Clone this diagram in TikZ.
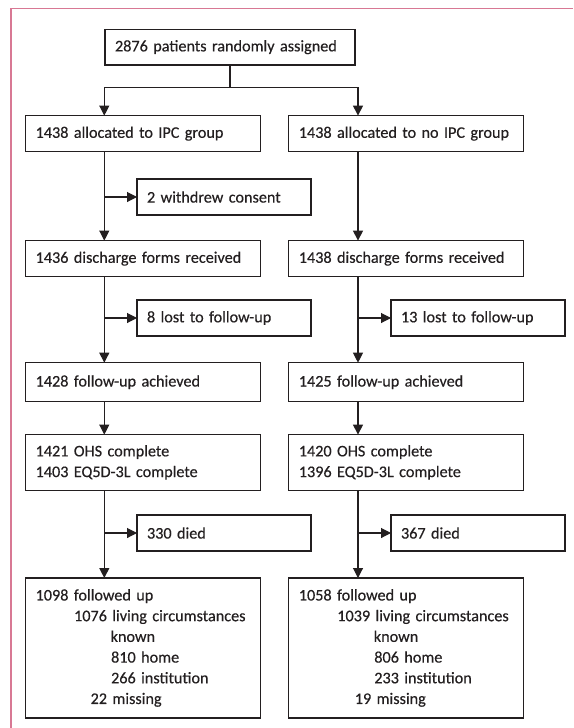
\documentclass[tikz,border=0pt]{standalone}
\usepackage{fontspec}
\setmainfont{Carlito}[FakeBold=0.35]
\usetikzlibrary{arrows.meta}
\definecolor{frame}{RGB}{216,120,148}
\definecolor{ink}{RGB}{35,31,32}
\begin{document}
\begin{tikzpicture}[x=1pt,y=-1pt,
  font=\fontsize{16.2}{20.7}\selectfont,
  box/.style 2 args={draw=ink, line width=1.1pt, text=ink, anchor=north west,
    inner xsep=10pt, inner ysep=0pt, outer sep=0pt, align=left,
    text width={#1-20pt}, minimum height=#2},
  link/.style={draw=ink, line width=1.1pt},
  arr/.style={link, -{Triangle[length=10pt,width=10pt]}}
]
\useasboundingbox (0,0) rectangle (573,728);
\draw[frame, line width=1.5pt, line join=miter] (11,728) -- (11,8.5) -- (573,8.5);

% column guides
\coordinate (cL) at (104.3,0);
\coordinate (cR) at (358,0);
\coordinate (split) at (230,87.7);

\node[box={250pt}{35.7pt}] (top) at (105,29.3) {2876 patients randomly assigned};

\node[box={234.5pt}{36pt}] (a1) at (25.6,115.6) {1438 allocated to IPC group};
\node[box={234.5pt}{36pt}] (b1) at (288.8,115.6) {1438 allocated to no IPC group};

\node[box={174pt}{36pt}] (aw) at (137,179) {2 withdrew consent};

\node[box={234.5pt}{36pt}] (a2) at (25.6,240.6) {1436 discharge forms received};
\node[box={234.5pt}{36pt}] (b2) at (288.8,240.6) {1438 discharge forms received};

\node[box={174pt}{36pt}] (al) at (137,300) {8 lost to follow-up};
\node[box={174pt}{36pt}] (bl) at (391,300) {13 lost to follow-up};

\node[box={234.5pt}{39pt}] (a3) at (25.6,362.7) {1428 follow-up achieved};
\node[box={234.5pt}{39pt}] (b3) at (288.8,362.7) {1425 follow-up achieved};

\node[box={234.5pt}{55.6pt}] (a4) at (25.6,434.6) {1421 OHS complete\\1403 EQ5D-3L complete};
\node[box={234.5pt}{55.6pt}] (b4) at (288.8,434.6) {1420 OHS complete\\1396 EQ5D-3L complete};

\node[box={174pt}{36pt}] (ad) at (137,515) {330 died};
\node[box={174pt}{36pt}] (bd) at (391,515) {367 died};

\node[box={234.5pt}{140pt}] (a5) at (25.6,578) {1098 followed up\\
\hspace*{38.5pt}1076 living circumstances\\
\hspace*{75pt}known\\
\hspace*{75.5pt}810 home\\
\hspace*{75.5pt}266 institution\\
\hspace*{55pt}22 missing};
\node[box={234.5pt}{140pt}] (b5) at (288.8,578) {1058 followed up\\
\hspace*{38.5pt}1039 living circumstances\\
\hspace*{75pt}known\\
\hspace*{75.5pt}806 home\\
\hspace*{75.5pt}233 institution\\
\hspace*{56pt}19 missing};

% split
\draw[link] (top.south) -- (split);
\draw[arr] (split) -| (a1.north -| cL);
\draw[arr] (split) -| (b1.north -| cR);

% left column
\draw[arr] (a1.south -| cL) -- (a2.north -| cL);
\draw[arr] (aw.west -| cL) -- (aw.west);
\draw[arr] (a2.south -| cL) -- (a3.north -| cL);
\draw[arr] (al.west -| cL) -- (al.west);
\draw[arr] (a3.south -| cL) -- (a4.north -| cL);
\draw[arr] (a4.south -| cL) -- (a5.north -| cL);
\draw[arr] (ad.west -| cL) -- (ad.west);

% right column
\draw[arr] (b1.south -| cR) -- (b2.north -| cR);
\draw[arr] (b2.south -| cR) -- (b3.north -| cR);
\draw[arr] (bl.west -| cR) -- (bl.west);
\draw[arr] (b3.south -| cR) -- (b4.north -| cR);
\draw[arr] (b4.south -| cR) -- (b5.north -| cR);
\draw[arr] (bd.west -| cR) -- (bd.west);
\end{tikzpicture}
\end{document}
